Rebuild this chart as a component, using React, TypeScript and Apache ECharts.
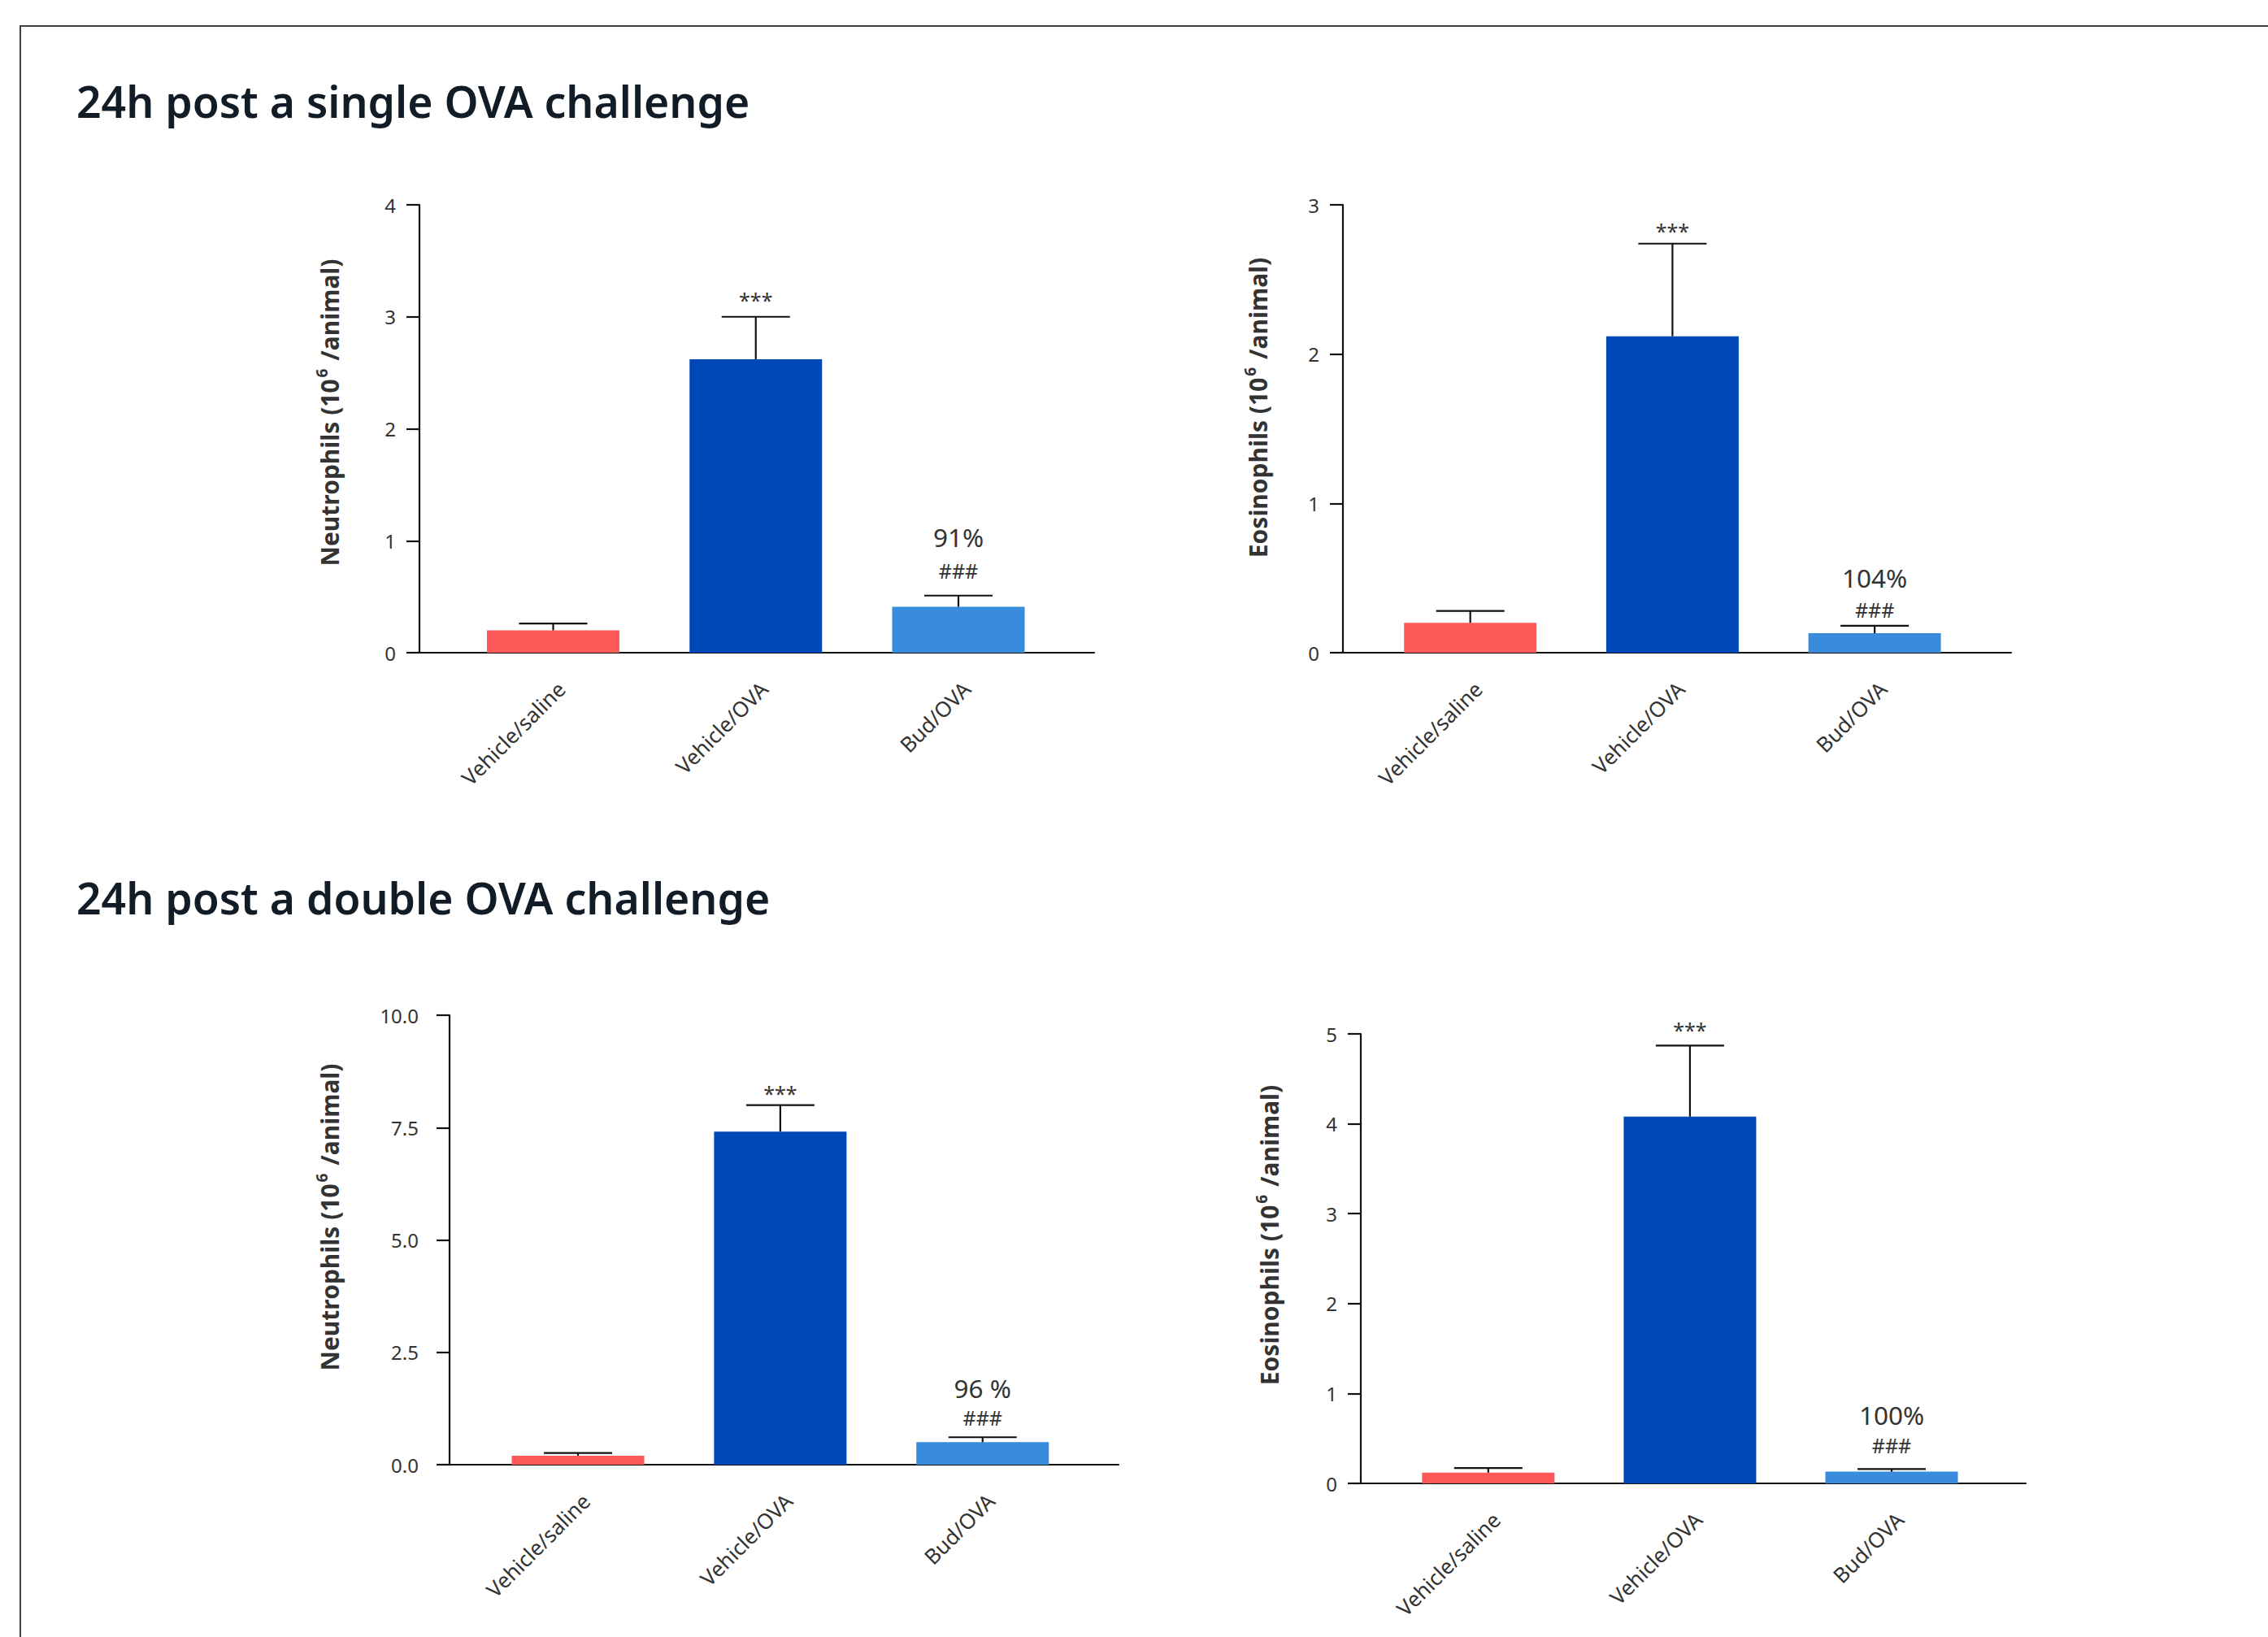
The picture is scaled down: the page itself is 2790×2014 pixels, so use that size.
import React, { useEffect, useRef } from 'react';
import * as echarts from 'echarts';

// Treatment groups shown on every panel
const categories = ['Vehicle/saline', 'Vehicle/OVA', 'Bud/OVA'];
const barColors = ['#FF5A5A', '#0047B8', '#398CDC'];

// Cell counts in BAL fluid (10^6 / animal): group means and SEM
const neutSingleMean = [0.2, 2.62, 0.41];
const neutSingleSem = [0.06, 0.38, 0.1];
const eosSingleMean = [0.2, 2.12, 0.13];
const eosSingleSem = [0.08, 0.62, 0.05];
const neutDoubleMean = [0.2, 7.41, 0.5];
const neutDoubleSem = [0.06, 0.59, 0.11];
const eosDoubleMean = [0.12, 4.08, 0.13];
const eosDoubleSem = [0.05, 0.79, 0.03];

// Significance marks (*** vs saline, ### vs OVA) and % inhibition by budesonide
const sigMarks = ['', '***', '###'];
const neutSingleInhibition = ['', '', '91%'];
const eosSingleInhibition = ['', '', '104%'];
const neutDoubleInhibition = ['', '', '96 %'];
const eosDoubleInhibition = ['', '', '100%'];

// Y-axis scales: [max, step, decimals]
const neutSingleScale = [4, 1, 0];
const eosSingleScale = [3, 1, 0];
const neutDoubleScale = [10, 2.5, 1];
const eosDoubleScale = [5, 1, 0];

const sectionTitles = ['24h post a single OVA challenge', '24h post a double OVA challenge'];

const FONT = "'Noto Sans', 'Open Sans', sans-serif";
const INK = '#111111';
const TEXT = '#333333';
const LINE_W = 2.2;
const BAR_W = 163;
const CAP_W = 84;
// rotated group labels sit slightly right of the bar centre
const LABEL_NUDGE = 0.04;

type Panel = {
  mean: number[];
  sem: number[];
  pct: string[];
  cell: string;
  scale: number[];
  grid: { left: number; top: number; width: number; height: number };
  xRange: [number, number];
  labelMargin: number;
  nameGap: number;
  nameShift: number;
  starGap: number;
  hashGap: number;
  pctGap: number;
};

const panels: Panel[] = [
  {
    mean: neutSingleMean, sem: neutSingleSem, pct: neutSingleInhibition, cell: 'Neutrophils',
    scale: neutSingleScale,
    grid: { left: 516, top: 252, width: 830, height: 551 },
    xRange: [-0.66, 2.67], labelMargin: 29, nameGap: 92, nameShift: 40,
    starGap: 21, hashGap: 31, pctGap: 72,
  },
  {
    mean: eosSingleMean, sem: eosSingleSem, pct: eosSingleInhibition, cell: 'Eosinophils',
    scale: eosSingleScale,
    grid: { left: 1652, top: 252, width: 822, height: 551 },
    xRange: [-0.63, 2.675], labelMargin: 29, nameGap: 86, nameShift: 52,
    starGap: 16, hashGap: 20, pctGap: 59,
  },
  {
    mean: neutDoubleMean, sem: neutDoubleSem, pct: neutDoubleInhibition, cell: 'Neutrophils',
    scale: neutDoubleScale,
    grid: { left: 553, top: 1249, width: 823, height: 553 },
    xRange: [-0.635, 2.672], labelMargin: 38, nameGap: 129, nameShift: 56,
    starGap: 15, hashGap: 24, pctGap: 61,
  },
  {
    mean: eosDoubleMean, sem: eosDoubleSem, pct: eosDoubleInhibition, cell: 'Eosinophils',
    scale: eosDoubleScale,
    grid: { left: 1674, top: 1272, width: 818, height: 553 },
    xRange: [-0.632, 2.665], labelMargin: 29, nameGap: 94, nameShift: 58,
    starGap: 19, hashGap: 29, pctGap: 67,
  },
];

function buildOption() {
  const grid = panels.map((p) => ({ ...p.grid, containLabel: false }));

  const xAxis = panels.map((p, k) => ({
    type: 'value',
    gridIndex: k,
    min: p.xRange[0],
    max: p.xRange[1],
    axisLine: { show: true, onZero: false, lineStyle: { color: INK, width: LINE_W } },
    axisTick: { show: false },
    splitLine: { show: false },
    axisLabel: {
      customValues: categories.map((_, i) => i + LABEL_NUDGE),
      formatter: (v: number) => categories[Math.round(v)] ?? '',
      rotate: 45,
      margin: 40,
      fontSize: 26,
      fontFamily: FONT,
      color: TEXT,
    },
  }));

  const yAxis = panels.map((p, k) => ({
    type: 'value',
    gridIndex: k,
    min: 0,
    max: p.scale[0],
    interval: p.scale[1],
    axisLine: { show: true, onZero: false, lineStyle: { color: INK, width: LINE_W } },
    axisTick: { show: true, length: 16, lineStyle: { color: INK, width: LINE_W } },
    splitLine: { show: false },
    axisLabel: {
      margin: p.labelMargin,
      fontSize: 24,
      fontFamily: FONT,
      color: TEXT,
      formatter: (v: number) => v.toFixed(p.scale[2]),
    },
    name: `{t|${p.cell} (10}{s|6}{t| /animal)}`,
    nameLocation: 'middle',
    nameRotate: 90,
    nameGap: p.nameGap,
    nameTextStyle: {
      padding: [0, 0, 0, p.nameShift],
      rich: {
        t: { fontSize: 30, fontWeight: 'bold', fontFamily: FONT, color: TEXT, lineHeight: 38 },
        s: { fontSize: 19, fontWeight: 'bold', fontFamily: FONT, color: TEXT, verticalAlign: 'top', lineHeight: 22, padding: [0, 2, 0, 2] },
      },
    },
  }));

  const series: any[] = [];
  panels.forEach((p, k) => {
    series.push({
      type: 'bar',
      xAxisIndex: k,
      yAxisIndex: k,
      barWidth: BAR_W,
      z: 2,
      data: p.mean.map((m, i) => ({ value: [i, m], itemStyle: { color: barColors[i] } })),
    });
    series.push({
      type: 'custom',
      xAxisIndex: k,
      yAxisIndex: k,
      z: 3,
      encode: { x: 0, y: 1 },
      data: p.mean.map((m, i) => [i, m, p.sem[i]]),
      renderItem: (params: any, api: any) => {
        const i = api.value(0);
        const m = api.value(1);
        const s = api.value(2);
        const base = api.coord([i, m]);
        const top = api.coord([i, m + s]);
        const stroke = { stroke: INK, lineWidth: LINE_W };
        const children: any[] = [
          { type: 'line', shape: { x1: base[0], y1: base[1], x2: top[0], y2: top[1] }, style: stroke },
          { type: 'line', shape: { x1: top[0] - CAP_W / 2, y1: top[1], x2: top[0] + CAP_W / 2, y2: top[1] }, style: stroke },
        ];
        const sig = sigMarks[params.dataIndex];
        if (sig) {
          const gap = sig.startsWith('*') ? p.starGap : p.hashGap;
          children.push({
            type: 'text',
            x: top[0],
            y: top[1] - gap,
            style: { text: sig, fill: TEXT, fontSize: 25, fontFamily: FONT, align: 'center', verticalAlign: 'middle' },
          });
        }
        const pct = p.pct[params.dataIndex];
        if (pct) {
          children.push({
            type: 'text',
            x: top[0],
            y: top[1] - p.pctGap,
            style: { text: pct, fill: TEXT, fontSize: 31.5, fontFamily: FONT, align: 'center', verticalAlign: 'middle' },
          });
        }
        return { type: 'group', children };
      },
    });
  });

  const graphic = [
    {
      type: 'rect',
      shape: { x: 25, y: 32, width: 2900, height: 2100 },
      style: { fill: 'none', stroke: '#37414B', lineWidth: 2 },
      silent: true,
    },
    {
      type: 'text',
      x: 94,
      y: 124,
      style: { text: sectionTitles[0], fill: '#111C27', fontSize: 53.5, fontWeight: 600, fontFamily: FONT, verticalAlign: 'middle' },
    },
    {
      type: 'text',
      x: 94,
      y: 1104,
      style: { text: sectionTitles[1], fill: '#111C27', fontSize: 53.5, fontWeight: 600, fontFamily: FONT, verticalAlign: 'middle' },
    },
  ];

  return { animation: false, backgroundColor: '#FFFFFF', grid, xAxis, yAxis, series, graphic };
}

export default function App() {
  const ref = useRef<HTMLDivElement>(null);
  useEffect(() => {
    if (!ref.current) return;
    const chart = echarts.init(ref.current, undefined, { renderer: 'svg' });
    chart.setOption(buildOption() as any);
    return () => chart.dispose();
  }, []);
  return (
    <div
      ref={ref}
      style={{ position: 'fixed', left: 0, top: 0, width: 2790, height: 2014, background: '#fff' }}
    />
  );
}
